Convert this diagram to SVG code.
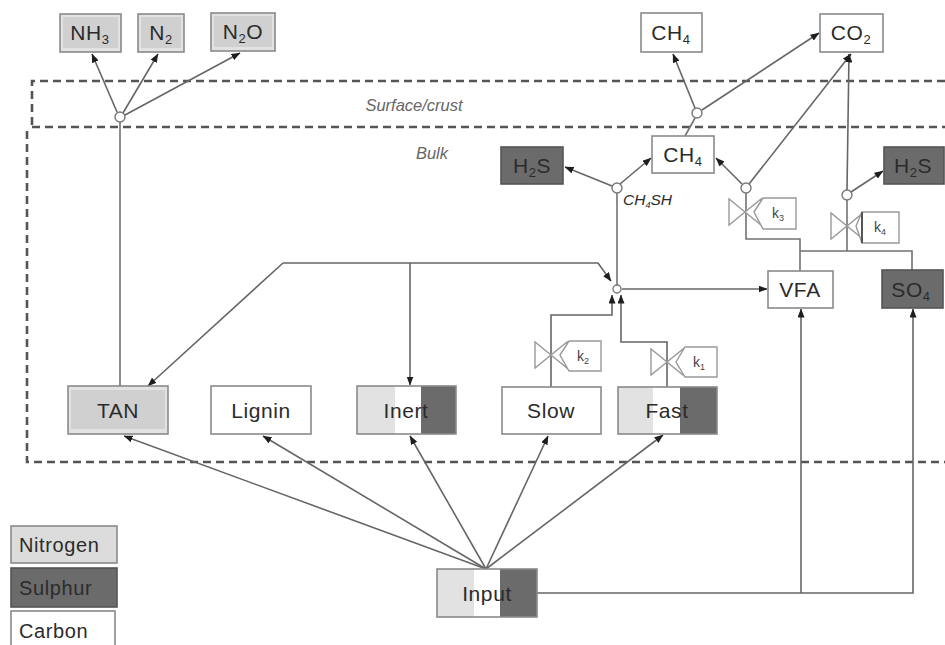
<svg xmlns="http://www.w3.org/2000/svg" width="945" height="645" viewBox="0 0 945 645">
<defs>
<marker id="ah" markerUnits="userSpaceOnUse" markerWidth="9" markerHeight="7" refX="8.5" refY="3.5" orient="auto">
<path d="M0,0 L9,3.5 L0,7 z" fill="#1e1e1e"/>
</marker>
<style>
text{font-family:"Liberation Sans",Arial,sans-serif;fill:#2b2b2b;}
.lbl{font-size:21px;text-anchor:middle;letter-spacing:0.6px;}
.sub{font-size:13px;}
.it{font-style:italic;fill:#666;font-size:16.5px;}
.box{stroke:#8a8a8a;stroke-width:1.6;}
.n{fill:#e2e2e2;}
.ni{fill:#d0d0d0;stroke:none;}
.c{fill:#ffffff;}
.s{fill:#6b6b6b;stroke:#555;}
.ln{fill:none;stroke:#727272;stroke-width:1.6;}
.ar{fill:none;stroke:#666;stroke-width:1.6;marker-end:url(#ah);}
.dash{fill:none;stroke:#555;stroke-width:2.6;stroke-dasharray:8 5;}
.jn{fill:#fff;stroke:#777;stroke-width:1.4;}
.vl{fill:#fff;stroke:#999;stroke-width:1.4;}
.kt{font-size:14px;text-anchor:middle;fill:#444;}
.ks{font-size:9px;}
.lg{font-size:20px;letter-spacing:0.6px;}
</style>
</defs>

<g id="zones">
<path class="dash" d="M945,81 H32 V127"/>
<path class="dash" d="M32,127 H945"/>
<path class="dash" d="M27,131 V462 H945"/>
<text class="it" x="414" y="111" text-anchor="middle">Surface/crust</text>
<text class="it" x="432" y="159" text-anchor="middle">Bulk</text>
</g>

<g id="connectors">
<line class="ln" x1="120" y1="122" x2="120" y2="386"/>
<line class="ar" x1="117" y1="112" x2="92" y2="54"/>
<line class="ar" x1="123" y1="113" x2="158" y2="54"/>
<line class="ar" x1="125" y1="115" x2="240" y2="53"/>
<line class="ln" x1="685" y1="136" x2="695" y2="118"/>
<line class="ar" x1="695" y1="108" x2="673" y2="54"/>
<line class="ar" x1="702" y1="110" x2="819" y2="33"/>
<line class="ar" x1="612" y1="186" x2="565" y2="167"/>
<line class="ar" x1="620" y1="184" x2="651" y2="158"/>
<line class="ln" x1="617" y1="193" x2="617" y2="285"/>
<line class="ar" x1="742" y1="184" x2="716" y2="158"/>
<line class="ar" x1="749" y1="184" x2="851" y2="54"/>
<path class="ln" d="M746,193 V239 H800 V271"/>
<line class="ar" x1="851" y1="192" x2="883" y2="171"/>
<line class="ar" x1="847" y1="190" x2="849" y2="54"/>
<path class="ln" d="M847,200 V251"/>
<path class="ln" d="M800,251 H912 V270"/>
<line class="ar" x1="622" y1="289" x2="767" y2="289"/>
<path class="ar" d="M283,263 H598 L611,281"/>
<path class="ar" d="M283,263 L148,386"/>
<path class="ar" d="M410,263 V385"/>
<path class="ar" d="M551,387 V315 H612 V295"/>
<path class="ar" d="M667,387 V342 H621 V295"/>
<line class="ar" x1="486" y1="569" x2="124" y2="436"/>
<line class="ar" x1="486" y1="569" x2="263" y2="436"/>
<line class="ar" x1="486" y1="569" x2="410" y2="436"/>
<line class="ar" x1="486" y1="569" x2="548" y2="436"/>
<line class="ar" x1="486" y1="569" x2="663" y2="435"/>
<path class="ar" d="M537,593 H913 V309"/>
<path class="ar" d="M801,593 V309"/>
<circle class="jn" cx="120" cy="117" r="5"/>
<circle class="jn" cx="697" cy="113" r="5"/>
<circle class="jn" cx="617" cy="188" r="5"/>
<circle class="jn" cx="746" cy="188" r="5"/>
<circle class="jn" cx="847" cy="195" r="5"/>
<circle class="jn" cx="617" cy="289" r="4"/>
</g>

<g id="valve-k2">
<polygon class="vl" points="535,342 535,368 551,355"/>
<polygon class="vl" points="567,342 567,368 551,355"/>
<polygon class="vl" points="560,355 569,341 601,341 601,371 569,371"/>
<text class="kt" x="583" y="361">k<tspan class="ks" dy="3">2</tspan></text>
</g>
<g id="valve-k1">
<polygon class="vl" points="651,349 651,375 667,362"/>
<polygon class="vl" points="683,349 683,375 667,362"/>
<polygon class="vl" points="676,362 685,347 717,347 717,377 685,377"/>
<text class="kt" x="699" y="367">k<tspan class="ks" dy="3">1</tspan></text>
</g>
<g id="valve-k3">
<polygon class="vl" points="729,199 729,225 745,212"/>
<polygon class="vl" points="761,199 761,225 745,212"/>
<polygon class="vl" points="754,212 763,198 796,198 796,229 763,229"/>
<text class="kt" x="778" y="218">k<tspan class="ks" dy="3">3</tspan></text>
</g>
<g id="valve-k4">
<polygon class="vl" points="831,213 831,239 847,226"/>
<polygon class="vl" points="863,213 863,239 847,226"/>
<polygon class="vl" points="856,226 862,212 899,212 899,243 862,243"/>
<line x1="862" y1="212" x2="862" y2="243" stroke="#555" stroke-width="2"/>
<text class="kt" x="880" y="232">k<tspan class="ks" dy="3">4</tspan></text>
</g>

<g id="NH3"><rect class="box n" x="60" y="14" width="61" height="38"/><rect class="ni" x="63" y="17" width="55" height="31"/><text class="lbl" x="90" y="40">NH<tspan class="sub" dy="4">3</tspan></text></g>
<g id="N2"><rect class="box n" x="138" y="14" width="46" height="38"/><rect class="ni" x="141" y="17" width="40" height="31"/><text class="lbl" x="161" y="40">N<tspan class="sub" dy="4">2</tspan></text></g>
<g id="N2O"><rect class="box n" x="211" y="13" width="64" height="38"/><rect class="ni" x="214" y="16" width="58" height="31"/><text class="lbl" x="243" y="39">N<tspan class="sub" dy="4">2</tspan><tspan dy="-4">O</tspan></text></g>

<g id="CH4-top"><rect class="box c" x="641" y="13" width="61" height="39"/><text class="lbl" x="671" y="40">CH<tspan class="sub" dy="4">4</tspan></text></g>
<g id="CO2"><rect class="box c" x="820" y="14" width="63" height="38"/><text class="lbl" x="851" y="40">CO<tspan class="sub" dy="4">2</tspan></text></g>

<g id="H2S-left"><rect class="box s" x="501" y="147" width="62" height="37"/><text class="lbl" x="532" y="173">H<tspan class="sub" dy="4">2</tspan><tspan dy="-4">S</tspan></text></g>
<g id="CH4-bulk"><rect class="box c" x="652" y="136" width="62" height="37"/><text class="lbl" x="683" y="162">CH<tspan class="sub" dy="4">4</tspan></text></g>
<g id="H2S-right"><rect class="box s" x="884" y="147" width="60" height="37"/><text class="lbl" x="913" y="173">H<tspan class="sub" dy="4">2</tspan><tspan dy="-4">S</tspan></text></g>

<text x="623" y="205" font-size="15.5" font-style="italic" fill="#55606e">CH<tspan font-size="9" dy="3">4</tspan><tspan dy="-3">SH</tspan></text>

<g id="VFA"><rect class="box c" x="768" y="271" width="65" height="37"/><text class="lbl" x="800" y="297">VFA</text></g>
<g id="SO4"><rect class="box s" x="882" y="270" width="61" height="38"/><text class="lbl" x="911" y="297">SO<tspan class="sub" dy="4">4</tspan></text></g>

<g id="TAN"><rect class="box n" x="68" y="386" width="100" height="48"/><rect class="ni" x="71" y="390" width="94" height="39"/><text class="lbl" x="118" y="418">TAN</text></g>
<g id="Lignin"><rect class="box c" x="211" y="386" width="100" height="48"/><text class="lbl" x="261" y="418">Lignin</text></g>
<g id="Inert"><rect x="357" y="386" width="38" height="48" fill="#e2e2e2"/><rect x="395" y="386" width="26" height="48" fill="#fff"/><rect x="421" y="386" width="35" height="48" fill="#6b6b6b"/><rect class="box" x="357" y="386" width="99" height="48" fill="none"/><text class="lbl" x="406" y="418">Inert</text></g>
<g id="Slow"><rect class="box c" x="502" y="387" width="99" height="47"/><text class="lbl" x="551" y="418">Slow</text></g>
<g id="Fast"><rect x="618" y="387" width="35" height="47" fill="#e2e2e2"/><rect x="653" y="387" width="27" height="47" fill="#fff"/><rect x="680" y="387" width="37" height="47" fill="#6b6b6b"/><rect class="box" x="618" y="387" width="99" height="47" fill="none"/><text class="lbl" x="667" y="418">Fast</text></g>
<g id="Input"><rect x="437" y="569" width="37" height="48" fill="#e2e2e2"/><rect x="474" y="569" width="26" height="48" fill="#fff"/><rect x="500" y="569" width="37" height="48" fill="#6b6b6b"/><rect class="box" x="437" y="569" width="100" height="48" fill="none"/><text class="lbl" x="487" y="601">Input</text></g>

<g id="legend">
<rect class="box" x="11" y="526" width="106" height="37" fill="#dcdcdc"/><text class="lg" x="19" y="552">Nitrogen</text>
<rect class="box s" x="11" y="568" width="106" height="39"/><text class="lg" x="19" y="595">Sulphur</text>
<rect class="box c" x="11" y="611" width="104" height="40"/><text class="lg" x="19" y="638">Carbon</text>
</g>
</svg>
